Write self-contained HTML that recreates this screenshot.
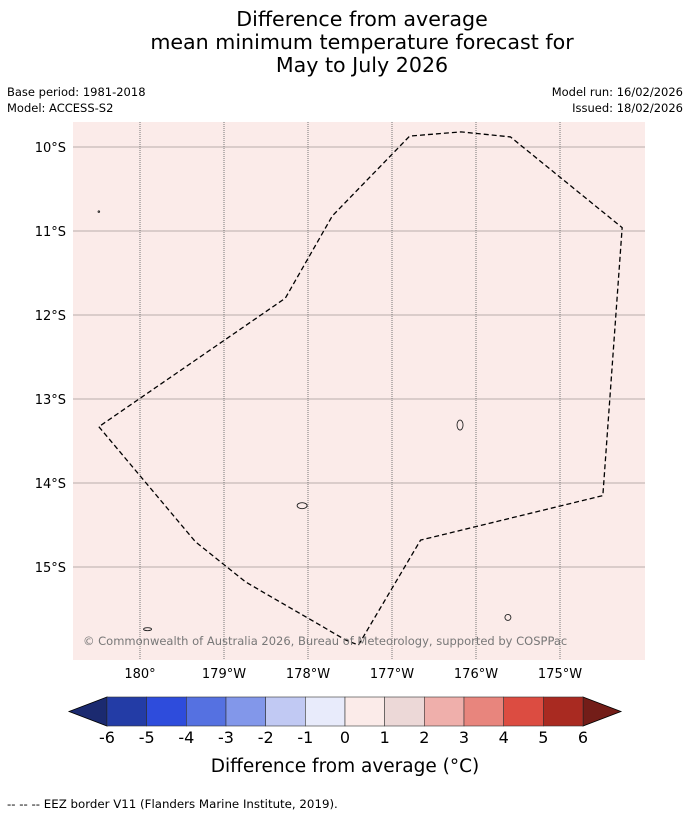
<!DOCTYPE html>
<html><head><meta charset="utf-8"><style>
body{margin:0;background:#fff;font-family:"Liberation Sans","DejaVu Sans",sans-serif;}
#wrap{position:relative;width:690px;height:816px;overflow:hidden;}
.t{position:absolute;white-space:nowrap;}
</style></head><body>
<div id="wrap">
<div class="t" style="left:0;width:724px;text-align:center;top:8px;font-family:'DejaVu Sans',sans-serif;font-size:20.6px;line-height:23px;color:#000">Difference from average<br>mean minimum temperature forecast for<br>May to July 2026</div>
<div class="t" style="left:7px;top:85px;font-size:11.5px;font-family:'DejaVu Sans',sans-serif">Base period: 1981-2018</div>
<div class="t" style="left:7px;top:101px;font-size:11.5px;font-family:'DejaVu Sans',sans-serif">Model: ACCESS-S2</div>
<div class="t" style="right:7px;top:85px;font-size:11.5px;font-family:'DejaVu Sans',sans-serif">Model run: 16/02/2026</div>
<div class="t" style="right:7px;top:101px;font-size:11.5px;font-family:'DejaVu Sans',sans-serif">Issued: 18/02/2026</div>
<svg id="svg" width="690" height="816" style="position:absolute;left:0;top:0" font-family="DejaVu Sans, sans-serif"></svg>
<div class="t" style="left:7px;top:797px;font-size:11.8px;font-family:'DejaVu Sans',sans-serif">--  --  -- EEZ border V11 (Flanders Marine Institute, 2019).</div>
</div>
<script>
const lonTicks=[180,181,182,183,184,185];
const lonLabels=["180°","179°W","178°W","177°W","176°W","175°W"];
const latTicks=[-10,-11,-12,-13,-14,-15];
const latLabels=["10°S","11°S","12°S","13°S","14°S","15°S"];
const eezLon=[179.51,180.66,181.26,182.45,182.60,183.34,185.51,185.74,184.41,183.82,183.21,182.29,181.73,179.51];
const eezLat=[-13.33,-14.70,-15.18,-15.87,-15.93,-14.68,-14.15,-10.96,-9.88,-9.82,-9.87,-10.82,-11.80,-13.33];
const islandLon=[183.81,181.93,184.38,180.09,179.51];
const islandLat=[-13.31,-14.27,-15.60,-15.74,-10.77];
const islandRx=[3,5,3,4,0.8];
const islandRy=[5,3,3,1.5,0.8];
const cbLevels=[-6,-5,-4,-3,-2,-1,0,1,2,3,4,5,6];
const cbColors=["#233ca6","#2e4cdc","#5571e1","#8297ea","#c1c9f3","#e8ebfb","#fbebe9","#ecd8d7","#efafab","#e8857d","#dc4c41","#a92a21"];
const mapFill="#fbebe9";
const X0=73,X1=645,Y0=122,Y1=660;
const xs=l=>140+(l-180)*84;
const ys=l=>147+(-10-l)*84;
const cx=v=>107+(v+6)*(476/12);
const NS="http://www.w3.org/2000/svg";
const svg=document.getElementById('svg');
function mk(t,a,p){const e=document.createElementNS(NS,t);for(const k in a)e.setAttribute(k,a[k]);(p||svg).appendChild(e);return e;}
let bg=mk('rect',{x:X0,y:Y0,width:X1-X0,height:Y1-Y0,fill:mapFill});


latTicks.forEach((v,i)=>{const y=ys(v);
 let l=mk('line',{x1:X0,x2:X1,y1:y,y2:y,stroke:'#b8acab','stroke-width':1});
 
 
 let t=mk('text',{x:X0-7,y:y+5,'text-anchor':'end','font-size':13});t.textContent=latLabels[i];
 
 
});
lonTicks.forEach((v,i)=>{const x=xs(v);
 let l=mk('line',{x1:x,x2:x,y1:Y0,y2:Y1,stroke:'#777','stroke-width':1,'stroke-dasharray':'1,1'});
 
 
 let t=mk('text',{x:x,y:678,'text-anchor':'middle','font-size':13});t.textContent=lonLabels[i];
 
 
});
let pts=eezLon.map((l,i)=>xs(l)+','+ys(eezLat[i])).join(' ');
let eez=mk('polyline',{points:pts,fill:'none',stroke:'#000','stroke-width':1.3,'stroke-dasharray':'5,3'});


islandLon.forEach((l,i)=>{let e=mk('ellipse',{cx:xs(l),cy:ys(islandLat[i]),rx:islandRx[i],ry:islandRy[i],fill:'none',stroke:'#222','stroke-width':0.9});
 
 });
let cp=mk('text',{x:83,y:645,'font-size':11.5,fill:'#777'});cp.textContent='© Commonwealth of Australia 2026, Bureau of Meteorology, supported by COSPPac';


const cy0=697,cy1=726;
let la=mk('polygon',{points:`${cx(-6)},${cy0} 69,${(cy0+cy1)/2} ${cx(-6)},${cy1}`,fill:'#1b2a70',stroke:'#000','stroke-width':0.8});


let ra=mk('polygon',{points:`${cx(6)},${cy0} 621,${(cy0+cy1)/2} ${cx(6)},${cy1}`,fill:'#731d18',stroke:'#000','stroke-width':0.8});


cbColors.forEach((c,i)=>{let r=mk('rect',{x:cx(cbLevels[i]),y:cy0,width:cx(cbLevels[i+1])-cx(cbLevels[i]),height:cy1-cy0,fill:c,stroke:'#333','stroke-width':0.6});
 
 });
cbLevels.forEach(v=>{let t=mk('text',{x:cx(v),y:743,'text-anchor':'middle','font-size':16});t.textContent=String(v);
 
 });
let ct=mk('text',{x:345,y:772,'text-anchor':'middle','font-size':18.5});ct.textContent='Difference from average (°C)';


</script>
</body></html>
